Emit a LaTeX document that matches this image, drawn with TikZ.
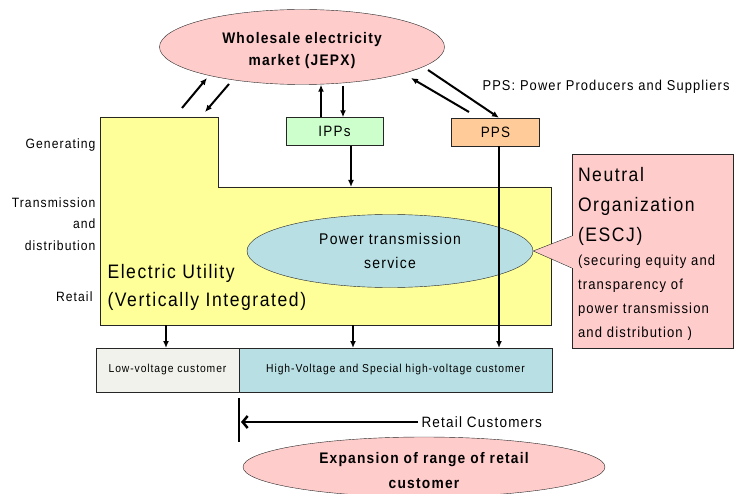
\documentclass[tikz,border=0pt]{standalone}
\usepackage{fontspec}
\setmainfont{Liberation Sans}[LetterSpace=8, FakeStretch=0.9]
\usetikzlibrary{positioning,arrows.meta,shapes.geometric}

\definecolor{mktpink}{RGB}{255,204,204}
\definecolor{utilyellow}{RGB}{255,255,153}
\definecolor{ippgreen}{RGB}{204,255,204}
\definecolor{ppsorange}{RGB}{255,204,153}
\definecolor{ptsblue}{RGB}{184,223,227}
\definecolor{lowgray}{RGB}{242,242,236}

\begin{document}
\begin{tikzpicture}[x=1pt, y=-1pt,
  arr/.style={draw, line width=2pt, -{Latex[length=7pt,width=6pt]}},
  oval/.style={draw=black!85, ellipse, align=center, inner sep=0pt},
  player/.style={draw=black!85, rectangle, minimum height=28pt, font=\fontsize{15}{17}\selectfont},
  cust/.style={draw=black!85, rectangle, minimum height=44pt, outer sep=0pt, font=\fontsize{11.5}{13}\selectfont},
  lbl/.style={anchor=east, align=right, font=\fontsize{13.5}{21.5}\selectfont},
]
\useasboundingbox (0,0) rectangle (735,494);

% electric utility block
\draw[fill=utilyellow, draw=black!85] (100,117) -- (218,117) -- (218,187) -- (551,187) -- (551,325) -- (100,325) -- cycle;
\node[anchor=west, align=left, font=\fontsize{19.5}{28}\selectfont] (eu) at (104,287) {Electric Utility\\(Vertically Integrated)};

% market and players
\node[oval, fill=mktpink, minimum width=285, minimum height=75] (jepx) at (302,47) {};
\node[align=center, font=\bfseries\fontsize{15.3}{22}\selectfont] (jepxtxt) at (302,51) {Wholesale electricity\\market (JEPX)};
\node[player, fill=ippgreen, minimum width=97] (ipps) at (334.5,131.5) {IPPs};
\node[player, fill=ppsorange, minimum width=88] (pps) at (495.5,132) {PPS};
\node[anchor=west, font=\fontsize{14.3}{16}\selectfont] (ppsnote) at (479,87) {PPS: Power Producers and Suppliers};

\node[oval, fill=ptsblue, minimum width=286, minimum height=73,
      font=\fontsize{15.5}{24}\selectfont] (pts) at (390,251) {Power transmission\\service};

% segment labels
\node[lbl] (gen) at (99,145) {Generating};
\node[lbl] (td) at (99,224) {Transmission\\and\\distribution};
\node[lbl] (ret) at (96,297) {Retail};

% neutral organization
\node[draw=black!85, fill=mktpink, minimum width=161, minimum height=194] (esc) at (652.5,251) {};
\fill[mktpink] ([xshift=1pt]esc.west |- 0,236) -- (pts.east) -- ([xshift=1pt]esc.west |- 0,268) -- cycle;
\draw[black!85] (esc.west |- 0,236) -- (pts.east) -- (esc.west |- 0,268);
\node[anchor=north west, align=left, inner sep=0pt, font=\fontsize{19.5}{30}\selectfont] (esctitle)
  at ([xshift=6pt,yshift=-13pt]esc.north west) {Neutral\\Organization\\(ESCJ)};
\node[anchor=north west, align=left, inner sep=0pt, font=\fontsize{14.5}{24}\selectfont] (escsub)
  at ([yshift=-9pt]esctitle.south west) {(securing equity and\\transparency of\\power transmission\\and distribution )};

% customers
\node[cust, fill=lowgray, minimum width=143] (low) at (167.5,370) {Low-voltage customer};
\node[cust, fill=ptsblue, minimum width=313, right=0pt of low] (high) {High-Voltage and Special high-voltage customer};

% trading arrows
\coordinate (ua) at (182,108);
\coordinate (ja) at (207,78);
\coordinate (jb) at (229,84);
\coordinate (ub) at (205,112);
\draw[arr] (ua) -- (ja);
\draw[arr] (jb) -- (ub);
\draw[arr] (ipps.north -| 321,0) -- (jepx.south -| 321,0);
\draw[arr] (343,86) -- (ipps.north -| 343,0);
\draw[arr] (469,112) -- (411,78);
\draw[arr] (428,70) -- (pps.north -| 499,0);

% supply arrows
\coordinate (ipout) at (351,187);
\draw[arr] (ipps.south -| ipout) -- (ipout);
\draw[arr] (pps.south -| 499,0) -- (high.north -| 499,0);
\draw[arr] (166,325) -- (low.north -| 166,0);
\draw[arr] (353,325) -- (high.north -| 353,0);

% retail range
\coordinate (rtop) at (239,398);
\coordinate (rbot) at (239,442);
\draw[line width=2pt] (rtop) -- (rbot);
\node[anchor=west, font=\fontsize{15}{17}\selectfont] (retail) at (418,422) {Retail Customers};
\draw[line width=2.5pt, -{Straight Barb[length=5pt,width=12pt]}] (retail.west) -- ([xshift=2pt]rtop |- retail.west);

\node[oval, fill=mktpink, minimum width=362, minimum height=60] (expand) at (424,467) {};
\node[align=center, font=\bfseries\fontsize{15.3}{25}\selectfont] (expandtxt) at (424,471) {Expansion of range of retail\\customer};

\end{tikzpicture}
\end{document}
